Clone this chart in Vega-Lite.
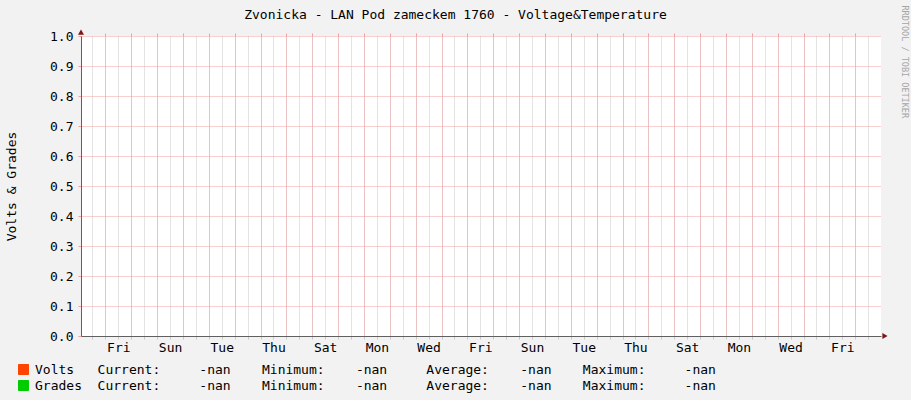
{
  "$schema": "https://vega.github.io/schema/vega-lite/v6.json",
  "width": 800,
  "height": 300,
  "autosize": {"type": "none"},
  "padding": {"left": 81, "top": 36, "right": 30, "bottom": 64},
  "background": "#f2f2f2",
  "title": {
    "text": "Zvonicka - LAN Pod zameckem 1760 - Voltage&Temperature",
    "font": "DejaVu Sans Mono",
    "fontSize": 13,
    "fontWeight": "normal",
    "color": "black",
    "anchor": "middle",
    "dx": -25.5,
    "offset": -17
  },
  "datasets": {
    "series": [
      {"time": "2015-01-01T01:21:00Z", "series": "Volts", "value": null},
      {"time": "2015-01-31T23:55:00Z", "series": "Volts", "value": null},
      {"time": "2015-01-01T01:21:00Z", "series": "Grades", "value": null},
      {"time": "2015-01-31T23:55:00Z", "series": "Grades", "value": null}
    ],
    "top_arrow": [{"time": "2015-01-01T01:21:00Z", "value": 1.013}],
    "right_arrow": [{"time": "2015-02-01T03:37:00Z", "value": 0}]
  },
  "layer": [
    {
      "data": {"name": "series"},
      "mark": {"type": "line", "strokeWidth": 1},
      "encoding": {
        "x": {
          "field": "time",
          "type": "temporal",
          "scale": {
            "type": "utc",
            "domain": [
              {"year": 2015, "month": 1, "date": 1, "hours": 1, "minutes": 21, "utc": true},
              {"year": 2015, "month": 1, "date": 31, "hours": 23, "minutes": 55, "utc": true}
            ]
          },
          "axis": {
            "orient": "bottom",
            "title": null,
            "tickCount": 62,
            "labelExpr": "utchours(datum.value) == 12 && utcdate(datum.value) % 2 == 0 ? utcFormat(datum.value, '%a') : ''",
            "labelOverlap": false,
            "labelFlush": false,
            "labelPadding": 2,
            "tickSize": 3,
            "tickColor": "#c8c8c8",
            "grid": true,
            "gridDash": [1, 1],
            "gridColor": "#c8c8c8"
          }
        },
        "y": {
          "field": "value",
          "type": "quantitative",
          "scale": {"domain": [0, 1], "nice": false},
          "axis": {
            "title": "Volts & Grades",
            "values": [0, 0.1, 0.2, 0.3, 0.4, 0.5, 0.6, 0.7, 0.8, 0.9, 1.0],
            "format": ".1f",
            "tickSize": 3,
            "tickColor": "#f3a0a0",
            "labelPadding": 5,
            "grid": true,
            "gridDash": [1, 1],
            "gridColor": "#f3a0a0",
            "titleX": -70,
            "titleY": 150,
            "titleAlign": "center",
            "titleBaseline": "middle"
          }
        },
        "color": {
          "field": "series",
          "type": "nominal",
          "scale": {"domain": ["Volts", "Grades"], "range": ["#ff4400", "#00cc00"]},
          "legend": {
            "orient": "none",
            "legendX": -64,
            "legendY": 327,
            "direction": "vertical",
            "title": null,
            "padding": 0,
            "symbolType": "square",
            "symbolSize": 100,
            "symbolStrokeWidth": 1,
            "symbolStrokeColor": "black",
            "labelFont": "DejaVu Sans Mono",
            "labelFontSize": 13,
            "labelColor": "black",
            "labelOffset": 5,
            "labelLimit": 0,
            "rowPadding": 1,
            "labelExpr": "datum.label == 'Volts' ? 'Volts\u00a0\u00a0\u00a0Current:\u00a0\u00a0\u00a0\u00a0\u00a0-nan\u00a0\u00a0\u00a0\u00a0Minimum:\u00a0\u00a0\u00a0\u00a0-nan\u00a0\u00a0\u00a0\u00a0\u00a0Average:\u00a0\u00a0\u00a0\u00a0-nan\u00a0\u00a0\u00a0\u00a0Maximum:\u00a0\u00a0\u00a0\u00a0\u00a0-nan' : 'Grades\u00a0\u00a0Current:\u00a0\u00a0\u00a0\u00a0\u00a0-nan\u00a0\u00a0\u00a0\u00a0Minimum:\u00a0\u00a0\u00a0\u00a0-nan\u00a0\u00a0\u00a0\u00a0\u00a0Average:\u00a0\u00a0\u00a0\u00a0-nan\u00a0\u00a0\u00a0\u00a0Maximum:\u00a0\u00a0\u00a0\u00a0\u00a0-nan'",
            "encode": {
              "symbols": {
                "update": {
                  "fill": {"scale": "color", "field": "value"},
                  "fillOpacity": {"value": 1},
                  "stroke": {"value": "black"},
                  "strokeWidth": {"value": 1}
                }
              }
            }
          }
        }
      }
    },
    {
      "data": {"name": "top_arrow"},
      "mark": {"type": "point", "shape": "triangle-up", "filled": true, "size": 36, "color": "#801515", "opacity": 1},
      "encoding": {
        "x": {
          "field": "time",
          "type": "temporal",
          "axis": {
            "orient": "top",
            "title": null,
            "tickCount": 31,
            "labels": false,
            "domain": false,
            "ticks": true,
            "tickSize": 3,
            "tickColor": "#f3a0a0",
            "grid": true,
            "gridDash": [1, 1],
            "gridColor": "#f3a0a0"
          }
        },
        "y": {
          "field": "value",
          "type": "quantitative",
          "axis": {
            "orient": "right",
            "title": "RRDTOOL / TOBI OETIKER",
            "labels": false,
            "ticks": false,
            "domain": false,
            "grid": false,
            "titleAngle": 90,
            "titleFontSize": 8.5,
            "titleColor": "#a5a5a5",
            "titleX": 23.5,
            "titleY": -31,
            "titleAlign": "left",
            "titleBaseline": "middle"
          }
        }
      }
    },
    {
      "data": {"name": "right_arrow"},
      "mark": {"type": "point", "shape": "triangle-right", "filled": true, "size": 36, "color": "#801515", "opacity": 1},
      "encoding": {
        "x": {"field": "time", "type": "temporal", "axis": null},
        "y": {"field": "value", "type": "quantitative", "axis": null}
      }
    }
  ],
  "resolve": {"axis": {"x": "independent", "y": "independent"}},
  "config": {
    "font": "DejaVu Sans Mono",
    "view": {"fill": "white", "stroke": null},
    "axis": {
      "labelFont": "DejaVu Sans Mono",
      "labelFontSize": 13,
      "labelColor": "black",
      "titleFont": "DejaVu Sans Mono",
      "titleFontSize": 13,
      "titleFontWeight": "normal",
      "titleColor": "black",
      "domainColor": "#606060",
      "gridOpacity": 1
    }
  }
}
